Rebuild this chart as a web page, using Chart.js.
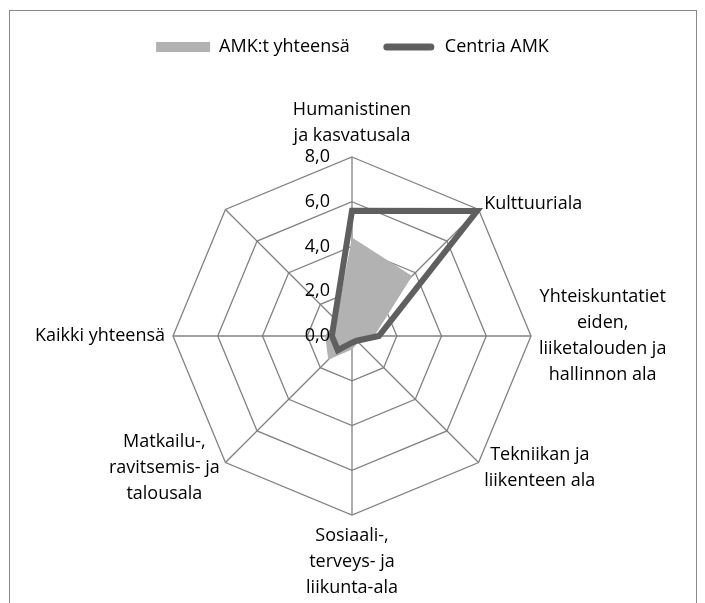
<!DOCTYPE html>
<html>
<head>
<meta charset="utf-8">
<script src="https://cdn.jsdelivr.net/npm/chart.js@4"></script>
<style>
    html, body { margin: 0; padding: 0; background: #fff; }
    #wrap { position: relative; width: 705px; height: 603px; overflow: hidden; }
    #frame { position: absolute; left: 9px; top: 10px; width: 686px; height: 640px; border: 1px solid #898989; }
    canvas { position: absolute; left: 0; top: 0; }
</style>
</head>
<body>
<div id="wrap">
    <div id="frame"></div>
    <canvas id="tutkinnotChart" width="705" height="603"></canvas>
</div>
<script>
// Alat (myötäpäivään ylhäältä), viimeinen akseli on nimetön
const categories = [
    ['Humanistinen', 'ja kasvatusala'],
    ['Kulttuuriala'],
    ['Yhteiskuntatiet', 'eiden,', 'liiketalouden ja', 'hallinnon ala'],
    ['Tekniikan ja', 'liikenteen ala'],
    ['Sosiaali-,', 'terveys- ja', 'liikunta-ala'],
    ['Matkailu-,', 'ravitsemis- ja', 'talousala'],
    ['Kaikki yhteensä'],
    ['']
];
const amkYhteensa = [4.4, 3.8, 1.0, 0.4, 0.6, 1.5, 1.2, 1.0];
const centriaAmk = [5.6, 7.9, 1.2, 0.3, 0.3, 0.9, 0.9, 1.1];
const seriesNames = ['AMK:t yhteensä', 'Centria AMK'];
const tickMin = 0, tickMax = 8, tickStep = 2;

const FONT = '"Open Sans", sans-serif';
const GRID = '#828282';

// Excel-tyyliset akselien ja asteikon tekstit
const excelLabels = {
    id: 'excelLabels',
    afterDraw(chart) {
        const s = chart.scales.r;
        const ctx = chart.ctx;
        ctx.save();
        ctx.font = '18px ' + FONT;
        ctx.fillStyle = '#000';
        ctx.textBaseline = 'middle';

        ctx.textAlign = 'right';
        s.ticks.forEach(t => {
            const d = s.getDistanceFromCenterForValue(t.value);
            ctx.fillText(t.label, s.xCenter - 22, s.yCenter - d);
        });

        const lh = 26;
        ctx.textAlign = 'center';
        chart.data.labels.forEach((lines, i) => {
            const p = s.getPointPosition(i, s.drawingArea + 8);
            const dx = p.x - s.xCenter, dy = p.y - s.yCenter;
            const w = Math.max(...lines.map(l => ctx.measureText(l).width));
            const h = lines.length * lh;
            let cx, top;
            if (Math.abs(dx) < 1) {
                cx = p.x;
                top = dy < 0 ? p.y - h : p.y;
            } else {
                cx = dx > 0 ? p.x + w / 2 : p.x - w / 2;
                top = p.y - h / 2;
            }
            lines.forEach((l, j) => ctx.fillText(l, cx, top + lh * j + lh / 2));
        });
        ctx.restore();
    }
};

const legendBoxes = [
    { fillStyle: '#b2b2b2', strokeStyle: '#b2b2b2', lineWidth: 0, borderRadius: 0 },
    { fillStyle: '#5f5f5f', strokeStyle: '#ffffff', lineWidth: 3, borderRadius: 5 }
];

new Chart(document.getElementById('tutkinnotChart').getContext('2d'), {
    type: 'radar',
    data: {
        labels: categories,
        datasets: [{
            label: seriesNames[0],
            data: amkYhteensa,
            backgroundColor: '#b2b2b2',
            borderColor: 'rgba(0,0,0,0)',
            borderWidth: 0,
            fill: true,
            pointRadius: 0,
            order: 2
        }, {
            label: seriesNames[1],
            data: centriaAmk,
            borderColor: '#5f5f5f',
            backgroundColor: '#5f5f5f',
            borderWidth: 6,
            fill: false,
            pointRadius: 0,
            order: 1
        }]
    },
    options: {
        responsive: false,
        animation: false,
        layout: { padding: { top: 6, bottom: 88, left: 0, right: 0 } },
        plugins: {
            tooltip: { enabled: false },
            title: {
                display: true,
                text: '',
                weight: 500,
                font: { size: 10 },
                padding: { top: 79, bottom: 0 }
            },
            legend: {
                position: 'top',
                weight: 1000,
                labels: {
                    font: { family: FONT, size: 18 },
                    color: '#000',
                    boxWidth: 54,
                    boxHeight: 10,
                    padding: 32,
                    generateLabels: chart => chart.data.datasets.map((ds, i) => ({
                        text: ds.label,
                        datasetIndex: i,
                        hidden: false,
                        fontColor: '#000',
                        ...legendBoxes[i]
                    }))
                }
            }
        },
        scales: {
            r: {
                min: tickMin,
                max: tickMax,
                ticks: {
                    stepSize: tickStep,
                    display: false,
                    callback: v => v.toFixed(1).replace('.', ',')
                },
                pointLabels: { display: false },
                grid: { color: GRID, lineWidth: 1.3 },
                angleLines: { color: GRID, lineWidth: 1.3 }
            }
        }
    },
    plugins: [excelLabels]
});
</script>
</body>
</html>
